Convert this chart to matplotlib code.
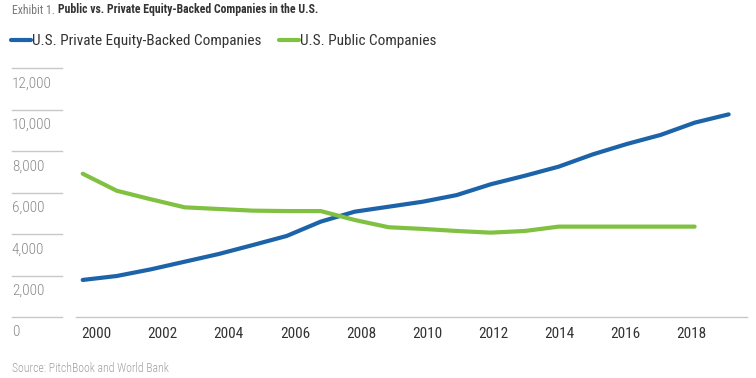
import matplotlib
matplotlib.use("Agg")
import matplotlib.pyplot as plt
import matplotlib.transforms as mtransforms

plt.rcParams['font.family'] = ['Roboto Condensed', 'DejaVu Sans']

# data
pe_years = list(range(2000, 2020))
pe_backed = [1800, 1990, 2310, 2680, 3050, 3480, 3920, 4610, 5090, 5330,
             5570, 5890, 6410, 6820, 7260, 7850, 8350, 8790, 9380, 9780]
pub_years = list(range(2000, 2019))
public = [6920, 6100, 5690, 5300, 5220, 5140, 5120, 5120, 4690, 4340,
          4260, 4160, 4080, 4160, 4370, 4370, 4370, 4370, 4370]

y_ticks = [0, 2000, 4000, 6000, 8000, 10000, 12000]
x_labels = [2000, 2002, 2004, 2006, 2008, 2010, 2012, 2014, 2016, 2018]

BLUE = '#1d63a9'
GREEN = '#80c141'

fig = plt.figure(figsize=(7.56, 3.78), dpi=100)
W, H = 756, 378
ax = fig.add_axes([12 / W, (H - 317.3) / H, 735 / W, (317.3 - 68.3) / H])
ax.set_xlim(1997.92, 2019.54)
ax.set_ylim(0, 12000)
for s in ax.spines.values():
    s.set_visible(False)
ax.set_yticks([])

# short gridlines in the left gutter + labels below them
ytr = ax.get_yaxis_transform()
lab_tr = mtransforms.offset_copy(ytr, fig=fig, x=0, y=-15, units='dots')
for v in y_ticks:
    ax.plot([0, 50 / 735], [v, v], transform=ytr, color='#c8c8c8', lw=1, clip_on=False)
    ax.text(0, v, f'{v:,}', transform=lab_tr, ha='left', va='center',
            fontsize=11, color='#8a8a8a', fontweight='light')

# bottom axis line
ax.plot([64 / 735, 1], [0, 0], transform=ytr, color='#c8c8c8', lw=1, clip_on=False)

ax.plot(pe_years, pe_backed, color=BLUE, lw=3, solid_capstyle='round',
        label='U.S. Private Equity-Backed Companies', clip_on=False)
ax.plot(pub_years, public, color=GREEN, lw=3, solid_capstyle='round',
        label='U.S. Public Companies', clip_on=False)

# labels sit a bit off the yearly points in the original
ax.set_xticks([2000.41 + (y - 2000) * 0.972 for y in x_labels])
ax.set_xticklabels([str(y) for y in x_labels], fontsize=11, color='#333333')
ax.tick_params(axis='x', length=0, pad=7)

leg = fig.legend(loc='upper left', bbox_to_anchor=(11 / W, 1 - 34 / H), ncol=2,
                 frameon=False, fontsize=11, handlelength=1.3, handletextpad=0.05,
                 columnspacing=1.2, borderpad=0, borderaxespad=0)
for t in leg.get_texts():
    t.set_color('#333333')

t1 = fig.text(12 / W, 1 - 10 / H, 'Exhibit 1. ', fontsize=8.5, color='#777777',
              ha='left', va='center')
ax.annotate('Public vs. Private Equity-Backed Companies in the U.S.', xy=(1, 0),
            xycoords=t1, va='bottom', ha='left', fontsize=8.5, fontweight='bold',
            color='#333333')

fig.text(12 / W, 1 - 369 / H, 'Source: PitchBook and World Bank', fontsize=8.5,
         color='#a0a0a0', ha='left', va='center', fontweight='light')

fig.savefig('out.png', dpi=100)
